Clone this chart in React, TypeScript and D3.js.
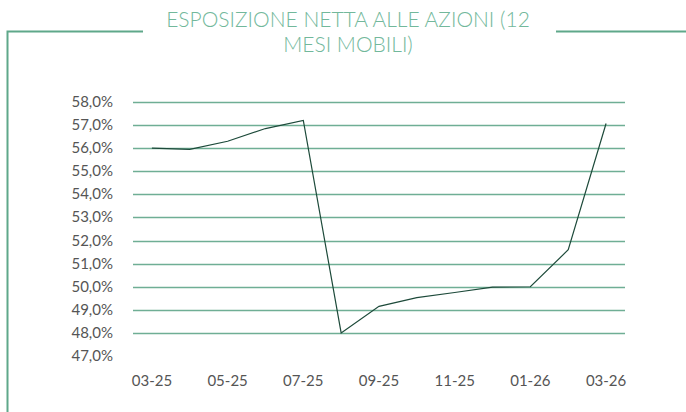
import React, { useEffect, useRef } from "react";
import * as d3 from "d3";

const months = ["03-25", "04-25", "05-25", "06-25", "07-25", "08-25", "09-25", "10-25", "11-25", "12-25", "01-26", "02-26", "03-26"];
const exposure = [56.0, 55.95, 56.3, 56.85, 57.2, 48.0, 49.15, 49.53, 49.75, 49.98, 50.0, 51.6, 57.07];
const yTicks = [47, 48, 49, 50, 51, 52, 53, 54, 55, 56, 57, 58];
const xLabels = ["03-25", "05-25", "07-25", "09-25", "11-25", "01-26", "03-26"];
const titleLines = ["ESPOSIZIONE NETTA ALLE AZIONI (12", "MESI MOBILI)"];

const W = 686;
const H = 412;

export default function App() {
  const ref = useRef<SVGSVGElement>(null);

  useEffect(() => {
    const svg = d3.select(ref.current);
    svg.selectAll("*").remove();

    const x = d3.scaleBand().domain(months).range([133, 625]);
    const y = d3.scaleLinear().domain([47, 58]).range([356, 102]);
    const fmt = (v: number) => v.toFixed(1).replace(".", ",") + "%";

    // frame
    const frameColor = "#5fa88a";
    svg.append("path")
      .attr("d", "M7.5,412 L7.5,31.5 L143,31.5")
      .attr("fill", "none")
      .attr("stroke", frameColor)
      .attr("stroke-width", 2);
    svg.append("line")
      .attr("x1", 556).attr("x2", W)
      .attr("y1", 31.5).attr("y2", 31.5)
      .attr("stroke", frameColor)
      .attr("stroke-width", 2);

    // title
    svg.append("g").selectAll("text")
      .data(titleLines)
      .enter()
      .append("text")
      .attr("x", 348)
      .attr("y", (d, i) => 26.5 + i * 25)
      .attr("text-anchor", "middle")
      .attr("font-family", "Lato")
      .attr("font-weight", 300)
      .attr("font-size", 21)
      .attr("fill", "#72b89b")
      .text(d => d);

    // grid
    svg.append("g").selectAll("line")
      .data(yTicks.filter(t => t > 47))
      .enter()
      .append("line")
      .attr("x1", 133).attr("x2", 625)
      .attr("y1", d => Math.round(y(d)) + 0.5)
      .attr("y2", d => Math.round(y(d)) + 0.5)
      .attr("stroke", "#6fae95")
      .attr("stroke-width", 1.3);

    // y labels
    svg.append("g").selectAll("text")
      .data(yTicks)
      .enter()
      .append("text")
      .attr("x", 113)
      .attr("y", d => y(d) + 5)
      .attr("text-anchor", "end")
      .attr("font-family", "Lato")
      .attr("font-size", 15)
      .attr("fill", "#555555")
      .text(d => fmt(d));

    // x labels
    svg.append("g").selectAll("text")
      .data(xLabels)
      .enter()
      .append("text")
      .attr("x", d => (x(d) as number) + x.bandwidth() / 2)
      .attr("y", 386)
      .attr("text-anchor", "middle")
      .attr("font-family", "Lato")
      .attr("font-size", 15)
      .attr("fill", "#555555")
      .text(d => d);

    // line
    const line = d3.line<number>()
      .x((d, i) => (x(months[i]) as number) + x.bandwidth() / 2)
      .y(d => y(d));
    svg.append("path")
      .attr("d", line(exposure))
      .attr("fill", "none")
      .attr("stroke", "#1d4a3a")
      .attr("stroke-width", 1.2);
  }, []);

  return (
    <svg ref={ref} width={W} height={H} style={{ position: "absolute", left: 0, top: 0 }} />
  );
}
